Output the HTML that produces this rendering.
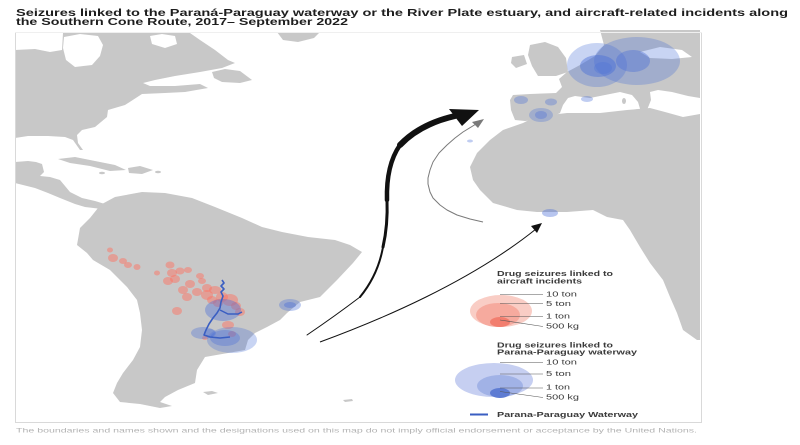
<!DOCTYPE html>
<html>
<head>
<meta charset="utf-8">
<style>
  html, body { margin: 0; padding: 0; background: #fff; }
  body { width: 800px; height: 445px; overflow: hidden; }
  svg { display: block; }
  text { font-family: "Liberation Sans", "DejaVu Sans", sans-serif; }
</style>
</head>
<body>
<svg width="800" height="445" viewBox="0 0 800 445" xmlns="http://www.w3.org/2000/svg">
  <rect x="0" y="0" width="800" height="445" fill="#ffffff"/>

  <!-- Title -->
  <text x="16" y="16" font-size="10" font-weight="bold" fill="#1e1e1e" textLength="772" lengthAdjust="spacingAndGlyphs">Seizures linked to the Paraná-Paraguay waterway or the River Plate estuary, and aircraft-related incidents along</text>
  <text x="16" y="25" font-size="10" font-weight="bold" fill="#1e1e1e" textLength="332" lengthAdjust="spacingAndGlyphs">the Southern Cone Route, 2017– September 2022</text>

  <!-- Land -->
  <g fill="#c8c8c8">
    <path d="M15,50 L35,49 L50,52 L62,50 L63,33 L190,33 L200,40 L215,50 L228,60 L235,63 L222,68 L200,72 L175,76 L155,80 L143,83 L150,86 L175,86 L200,84 L208,88 L185,92 L165,93 L142,94 L125,105 L108,110 L107,117 L95,127 L82,130 L77,135 L78,143 L83,150 L80,150 L73,140 L65,137 L48,136 L28,136 L15,138 Z"/>
    <path d="M212,72 L225,69 L240,71 L252,80 L240,83 L222,82 L214,78 Z"/>
    <path d="M277,32 L320,32 L314,38 L298,42 L283,40 Z"/>
    <path d="M58,159 L75,157 L95,161 L115,165 L126,170 L110,171 L90,166 L70,163 Z"/>
    <path d="M128,168 L140,166 L153,170 L142,174 L129,173 Z"/>
    <ellipse cx="102" cy="173" rx="3" ry="1.2"/>
    <ellipse cx="158" cy="172" rx="3" ry="1.2"/>
    <path d="M15,162 L28,161 L36,162 L42,164 L44,172 L40,176 L50,177 L60,180 L65,186 L70,192 L82,198 L95,201 L105,204 L102,209 L85,207 L75,204 L60,198 L48,193 L35,188 L15,183 Z"/>
    <path d="M102,204 L115,197 L142,192 L165,193 L192,198 L215,207 L242,218 L262,227 L282,232 L308,237 L335,240 L350,245 L362,252 L353,263 L337,280 L320,297 L300,302 L287,313 L280,320 L267,327 L255,333 L248,340 L245,350 L228,353 L205,357 L197,370 L195,383 L178,390 L165,397 L160,402 L172,406 L160,408 L145,405 L140,404 L120,402 L113,393 L117,383 L123,373 L133,360 L140,347 L142,330 L140,313 L137,300 L127,287 L110,270 L93,260 L87,253 L77,245 L80,228 L90,218 L98,208 Z"/>
    <path d="M203,392 L212,391 L218,393 L208,395 Z"/>
    <path d="M343,400 L352,399 L353,401 L345,402 Z"/>
    <path d="M530,45 L545,42 L558,47 L566,58 L568,72 L556,76 L538,76 L532,66 L528,55 Z"/>
    <path d="M512,57 L524,55 L527,64 L516,68 L511,63 Z"/>
    <path d="M600,30 L700,30 L700,98 L688,96 L672,92 L658,90 L650,92 L651,100 L647,110 L641,112 L638,102 L632,95 L620,92 L605,95 L590,98 L575,96 L568,98 L563,105 L560,113 L550,118 L535,120 L525,121 L515,120 L511,110 L510,100 L513,95 L530,94 L556,93 L562,87 L559,79 L567,72 L580,65 L595,56 L604,45 Z"/>
    <ellipse cx="624" cy="101" rx="2" ry="3"/>
    <ellipse cx="640" cy="114" rx="4" ry="1.5"/>
    <path d="M523,123 L533,118 L550,115 L567,113 L600,113 L627,110 L650,108 L665,112 L683,117 L700,114 L700,340 L697,340 L683,330 L677,313 L670,297 L663,280 L650,263 L640,247 L630,230 L623,220 L607,217 L593,210 L567,212 L537,212 L517,210 L493,203 L480,190 L473,180 L470,167 L477,153 L490,140 L503,130 Z"/>
  </g>
  <g fill="#ffffff">
    <path d="M64,37 L80,34 L98,36 L103,45 L100,56 L92,65 L75,67 L66,60 L63,48 Z"/>
    <path d="M150,36 L162,34 L175,36 L177,44 L165,48 L152,44 Z"/>
    <path d="M640,52 L660,47 L682,50 L692,57 L672,59 L650,58 Z"/>
  </g>

  <!-- Map frame -->
  <g stroke="#d9d9d9" stroke-width="1" fill="none">
    <line x1="15.5" y1="32" x2="15.5" y2="422"/>
    <line x1="15" y1="422.5" x2="702" y2="422.5"/>
    <line x1="701.5" y1="32" x2="701.5" y2="422"/>
  </g>
  <line x1="15" y1="32.5" x2="702" y2="32.5" stroke="#efefef" stroke-width="1"/>

  <!-- Red dots -->
  <g fill="#ff7060" fill-opacity="0.48">
    <ellipse cx="110" cy="250" rx="3" ry="2.5"/>
    <ellipse cx="113" cy="258" rx="5" ry="4"/>
    <ellipse cx="123" cy="261" rx="4" ry="3"/>
    <ellipse cx="128" cy="265" rx="4" ry="3"/>
    <ellipse cx="137" cy="267" rx="3.5" ry="3"/>
    <ellipse cx="157" cy="273" rx="3" ry="2.5"/>
    <ellipse cx="170" cy="265" rx="4.5" ry="3.5"/>
    <ellipse cx="172" cy="273" rx="5" ry="4"/>
    <ellipse cx="180" cy="271" rx="4.5" ry="3.5"/>
    <ellipse cx="188" cy="270" rx="4" ry="3"/>
    <ellipse cx="168" cy="281" rx="5" ry="4"/>
    <ellipse cx="175" cy="279" rx="5" ry="4"/>
    <ellipse cx="190" cy="284" rx="5" ry="4"/>
    <ellipse cx="200" cy="276" rx="4" ry="3"/>
    <ellipse cx="202" cy="281" rx="4" ry="3"/>
    <ellipse cx="183" cy="290" rx="5" ry="4"/>
    <ellipse cx="187" cy="297" rx="5" ry="4"/>
    <ellipse cx="197" cy="292" rx="5" ry="4"/>
    <ellipse cx="207" cy="288" rx="5" ry="4"/>
    <ellipse cx="207" cy="295" rx="6" ry="5"/>
    <ellipse cx="212" cy="300" rx="5" ry="4"/>
    <ellipse cx="218" cy="303" rx="5" ry="4"/>
    <ellipse cx="215" cy="290" rx="6" ry="4"/>
    <ellipse cx="222" cy="297" rx="6" ry="5"/>
    <ellipse cx="230" cy="300" rx="8" ry="6"/>
    <ellipse cx="236" cy="306" rx="5" ry="4"/>
    <ellipse cx="240" cy="312" rx="5" ry="4"/>
    <ellipse cx="177" cy="311" rx="5" ry="4"/>
    <ellipse cx="228" cy="325" rx="6" ry="4"/>
    <ellipse cx="205" cy="338" rx="3" ry="2"/>
    <ellipse cx="232" cy="334" rx="4" ry="3"/>
  </g>

  <!-- Blue dots SA -->
  <g fill="#4a6fd6">
    <ellipse cx="223" cy="310" rx="18" ry="11" fill-opacity="0.4"/>
    <ellipse cx="232" cy="340" rx="25" ry="13" fill-opacity="0.3"/>
    <ellipse cx="225" cy="338" rx="15" ry="8" fill-opacity="0.35"/>
    <ellipse cx="203" cy="333" rx="12" ry="6" fill-opacity="0.35"/>
    <ellipse cx="210" cy="333" rx="6" ry="4" fill-opacity="0.35"/>
    <ellipse cx="290" cy="305" rx="11" ry="6" fill-opacity="0.35"/>
    <ellipse cx="290" cy="305" rx="6" ry="3" fill-opacity="0.4"/>
  </g>
  <path d="M222,280 L224,283 L221,286 L224,289 L221,292 L223,296 L221,302 L220,308 L217,313 L213,318 L209,324 L206,330 L204,335 L210,337 L220,338 L230,337" fill="none" stroke="#3a5ec2" stroke-width="1.6" stroke-linejoin="round"/>
  <path d="M220,310 L228,314 L238,314 L242,312" fill="none" stroke="#3a5ec2" stroke-width="1.4"/>

  <!-- Blue dots Europe / Africa -->
  <g fill="#4a6fd6">
    <ellipse cx="637" cy="61" rx="43" ry="24" fill-opacity="0.3"/>
    <ellipse cx="597" cy="65" rx="30" ry="22" fill-opacity="0.3"/>
    <ellipse cx="598" cy="66" rx="18" ry="11" fill-opacity="0.45"/>
    <ellipse cx="633" cy="61" rx="17" ry="11" fill-opacity="0.4"/>
    <ellipse cx="603" cy="68" rx="9" ry="6" fill-opacity="0.3"/>
    <ellipse cx="521" cy="100" rx="7" ry="4" fill-opacity="0.35"/>
    <ellipse cx="551" cy="102" rx="6" ry="3.5" fill-opacity="0.35"/>
    <ellipse cx="587" cy="99" rx="6" ry="3" fill-opacity="0.35"/>
    <ellipse cx="541" cy="115" rx="12" ry="7" fill-opacity="0.3"/>
    <ellipse cx="541" cy="115" rx="6" ry="4" fill-opacity="0.35"/>
    <ellipse cx="470" cy="141" rx="3" ry="1.5" fill-opacity="0.35"/>
    <ellipse cx="550" cy="213" rx="8" ry="4" fill-opacity="0.4"/>
  </g>

  <!-- Black big arrow -->
  <g fill="none" stroke="#111" stroke-linecap="round" stroke-linejoin="round">
    <path d="M307,335 Q335,316 360,297" stroke-width="1"/>
    <path d="M360,297 Q378,275 383,247" stroke-width="2"/>
    <path d="M383,247 Q388,225 387,200" stroke-width="3"/>
    <path d="M387,200 Q386,165 400,145" stroke-width="4.5"/>
    <path d="M400,145 Q420,124 455,116" stroke-width="6"/>
  </g>
  <path d="M449,109 L479,110 L462,126 Z" fill="#111"/>

  <!-- Gray arrow -->
  <polyline points="483,222 470,219 457,215 447,210 440,205 433,198 430,192 428,184 428,178 430,170 433,162 439,153 447,145 455,138 463,132 476,124" fill="none" stroke="#7a7a7a" stroke-width="1" stroke-linejoin="round"/>
  <path d="M472,122 L484,119 L478,128 Z" fill="#7a7a7a"/>

  <!-- Thin black arrow -->
  <path d="M320,342 C380,320 470,282 536,229" fill="none" stroke="#111" stroke-width="1"/>
  <path d="M531,226 L542,223 L537,233 Z" fill="#111"/>

  <!-- Legend: aircraft incidents -->
  <text x="497" y="276" font-size="7" font-weight="bold" fill="#3a3a3a" textLength="116" lengthAdjust="spacingAndGlyphs">Drug seizures linked to</text>
  <text x="497" y="283.5" font-size="7" font-weight="bold" fill="#3a3a3a" textLength="85" lengthAdjust="spacingAndGlyphs">aircraft incidents</text>
  <ellipse cx="501" cy="311" rx="31" ry="16" fill="#f9cdc5"/>
  <ellipse cx="498" cy="315" rx="22" ry="12" fill="#f6aa9e"/>
  <ellipse cx="500" cy="322" rx="10" ry="5" fill="#f27e6f"/>
  <g stroke="#555" stroke-width="0.6">
    <line x1="500" y1="294.5" x2="543" y2="294.5"/>
    <line x1="500" y1="303.5" x2="543" y2="303.5"/>
    <line x1="500" y1="316.5" x2="543" y2="316.5"/>
    <line x1="500" y1="320" x2="543" y2="326.5"/>
  </g>
  <g font-size="7" fill="#3a3a3a">
    <text x="546" y="296.5" textLength="31" lengthAdjust="spacingAndGlyphs">10 ton</text>
    <text x="546" y="306" textLength="25" lengthAdjust="spacingAndGlyphs">5 ton</text>
    <text x="546" y="318.5" textLength="24" lengthAdjust="spacingAndGlyphs">1 ton</text>
    <text x="546" y="328.5" textLength="33" lengthAdjust="spacingAndGlyphs">500 kg</text>
  </g>

  <!-- Legend: waterway -->
  <text x="497" y="347.5" font-size="7" font-weight="bold" fill="#3a3a3a" textLength="116" lengthAdjust="spacingAndGlyphs">Drug seizures linked to</text>
  <text x="497" y="354.5" font-size="7" font-weight="bold" fill="#3a3a3a" textLength="140" lengthAdjust="spacingAndGlyphs">Parana-Paraguay waterway</text>
  <ellipse cx="494" cy="380" rx="39" ry="17" fill="#c6cff1"/>
  <ellipse cx="500" cy="386" rx="23" ry="11" fill="#a1b2e6"/>
  <ellipse cx="500" cy="393" rx="10" ry="5" fill="#5e7cd3"/>
  <g stroke="#555" stroke-width="0.6">
    <line x1="500" y1="362.5" x2="543" y2="362.5"/>
    <line x1="500" y1="374" x2="543" y2="374"/>
    <line x1="500" y1="388" x2="543" y2="388"/>
    <line x1="500" y1="391.5" x2="543" y2="397.5"/>
  </g>
  <g font-size="7" fill="#3a3a3a">
    <text x="546" y="364.5" textLength="31" lengthAdjust="spacingAndGlyphs">10 ton</text>
    <text x="546" y="376" textLength="25" lengthAdjust="spacingAndGlyphs">5 ton</text>
    <text x="546" y="389.5" textLength="24" lengthAdjust="spacingAndGlyphs">1 ton</text>
    <text x="546" y="399.5" textLength="33" lengthAdjust="spacingAndGlyphs">500 kg</text>
  </g>

  <line x1="470" y1="414.5" x2="488" y2="414.5" stroke="#3a5ec2" stroke-width="2"/>
  <text x="497" y="417" font-size="7" font-weight="bold" fill="#3a3a3a" textLength="141" lengthAdjust="spacingAndGlyphs">Parana-Paraguay Waterway</text>

  <!-- Footer -->
  <text x="16" y="432.5" font-size="6.5" fill="#b3b3b3" textLength="681" lengthAdjust="spacingAndGlyphs">The boundaries and names shown and the designations used on this map do not imply official endorsement or acceptance by the United Nations.</text>
</svg>
</body>
</html>
